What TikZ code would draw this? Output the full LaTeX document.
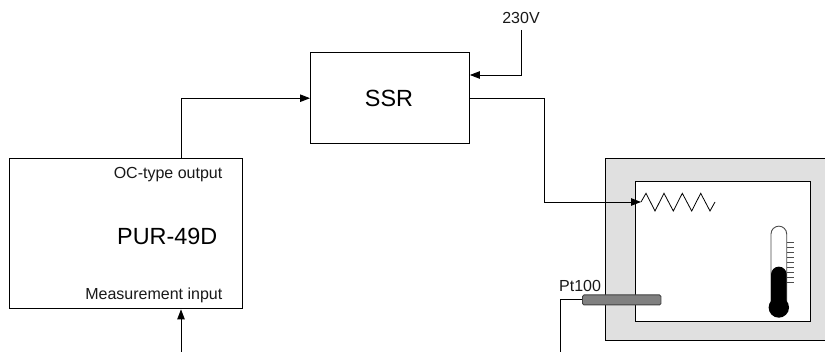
\documentclass[tikz,border=0pt]{standalone}
\usepackage{fontspec}
\setmainfont{Liberation Sans}
\usetikzlibrary{arrows.meta,calc}
\tikzset{
  blockbox/.style={draw=black,line width=0.9pt,fill=white,inner sep=0pt,anchor=north west},
  wire/.style={draw=black,line width=0.9pt},
  arrowwire/.style={wire,-{Triangle[length=10pt,width=7.5pt]}},
  small/.style={font=\fontsize{16}{16}\selectfont,inner sep=0pt,text=black!90},
  big/.style={font=\fontsize{23.4}{24}\selectfont,inner sep=0pt,text=black}
}
\begin{document}
\begin{tikzpicture}[x=1pt,y=-1pt]
\useasboundingbox (0,0) rectangle (825,352);
% chamber
\node[blockbox,fill=black!12,minimum width=221.5pt,minimum height=181.5pt] (outer) at (604.5,158.5) {};
\node[blockbox,minimum width=174.5pt,minimum height=140pt] (inner) at (635,181) {};
% blocks
\node[blockbox,minimum width=159pt,minimum height=90.5pt] (ssr) at (310,52.5) {};
\node[blockbox,minimum width=232.5pt,minimum height=150pt] (pur) at (9,158.5) {};
% texts
\node[big,anchor=base] (ssrlabel) at (389,106.7) {SSR};
\node[big,anchor=base west] (purlabel) at (117,245) {PUR-49D};
\node[small,anchor=base east] (oc) at (222.5,179) {OC-type output};
\node[small,anchor=base east] (meas) at (222.5,300) {Measurement input};
\node[small,anchor=base] (v230) at (521,24) {230V};
\node[small,anchor=base west] (pt) at (559,292) {Pt100};
% free ends
\coordinate (inend) at (181,352);
\coordinate (ptend) at (560,352);
\coordinate (heat) at (641,202);
% heater
\draw[wire,line width=0.8pt] (heat) -- (646,193.3) -- (655,211) -- (664,193.3) -- (673.3,211) -- (682.3,193.3) -- (691.7,211) -- (700.7,193.3) -- (710,211) -- (715,202);
% probe
\node[draw=black!75,fill=black!50,line width=0.9pt,rounded corners=1.5pt,inner sep=0pt,minimum width=78.5pt,minimum height=10pt,anchor=north west] (probe) at (582,294.5) {};
% thermometer
\draw[draw=black!70,line width=0.9pt,fill=white] (771,308) -- (771,234) arc[start angle=180,end angle=360,radius=7.85] -- (786.7,308);
\fill[black] (771,308) -- (771,274.5) arc[start angle=180,end angle=360,radius=7.85] -- (786.7,308) -- cycle;
\fill[black] (778.8,307.5) circle[radius=10.2];
\foreach \i in {0,...,8} \draw[draw=black!70,line width=0.8pt] (787,242.7+5*\i) -- (794,242.7+5*\i);
% connectors
\draw[arrowwire] (inend) -- (pur.south -| inend);
\draw[arrowwire] (pur.north -| inend) |- (ssr.west);
\draw[arrowwire] (521.7,30) -- (521.7,75) -- (ssr.east |- 0,75);
\draw[arrowwire] (ssr.east |- 0,98) -- (544.5,98) -- (544.5,202) -- (heat);
\draw[wire] (probe.west) -- (ptend |- probe.west) -- (ptend);
\end{tikzpicture}
\end{document}
